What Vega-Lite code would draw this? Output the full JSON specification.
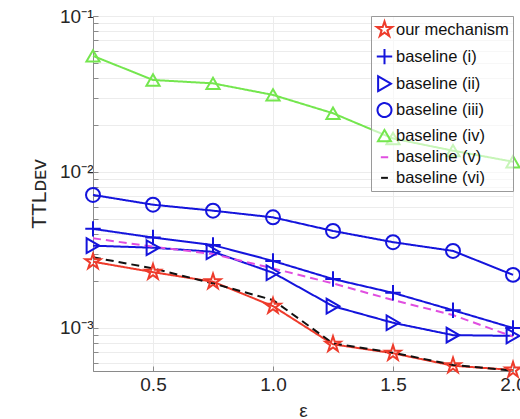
{
  "$schema": "https://vega.github.io/schema/vega-lite/v6.json",
  "width": 420,
  "height": 355,
  "autosize": {"type": "none"},
  "padding": {"left": 93, "top": 16, "right": 7, "bottom": 48},
  "background": "white",
  "config": {
    "font": "Liberation Sans",
    "view": {"stroke": "#9a9a9a", "strokeWidth": 1},
    "axis": {
      "labelFont": "Liberation Sans",
      "titleFont": "Liberation Sans",
      "labelColor": "#262626",
      "titleColor": "#262626",
      "titleFontWeight": "normal",
      "domainColor": "#8a8a8a",
      "tickColor": "#8a8a8a",
      "gridColor": "#ececec",
      "gridWidth": 1,
      "tickSize": -5
    },
    "legend": {"labelFont": "Liberation Sans"}
  },
  "data": {
    "values": [
      {"eps": 0.25, "val": 0.00266, "series": "our mechanism"},
      {"eps": 0.5, "val": 0.00228, "series": "our mechanism"},
      {"eps": 0.75, "val": 0.00198, "series": "our mechanism"},
      {"eps": 1.0, "val": 0.00138, "series": "our mechanism"},
      {"eps": 1.25, "val": 0.000786, "series": "our mechanism"},
      {"eps": 1.5, "val": 0.000689, "series": "our mechanism"},
      {"eps": 1.75, "val": 0.000573, "series": "our mechanism"},
      {"eps": 2.0, "val": 0.000538, "series": "our mechanism"},
      {"eps": 0.25, "val": 0.00432, "series": "baseline (i)"},
      {"eps": 0.5, "val": 0.0038, "series": "baseline (i)"},
      {"eps": 0.75, "val": 0.0034, "series": "baseline (i)"},
      {"eps": 1.0, "val": 0.00269, "series": "baseline (i)"},
      {"eps": 1.25, "val": 0.00206, "series": "baseline (i)"},
      {"eps": 1.5, "val": 0.00168, "series": "baseline (i)"},
      {"eps": 1.75, "val": 0.0013, "series": "baseline (i)"},
      {"eps": 2.0, "val": 0.001, "series": "baseline (i)"},
      {"eps": 0.25, "val": 0.00337, "series": "baseline (ii)"},
      {"eps": 0.5, "val": 0.00327, "series": "baseline (ii)"},
      {"eps": 0.75, "val": 0.00308, "series": "baseline (ii)"},
      {"eps": 1.0, "val": 0.00226, "series": "baseline (ii)"},
      {"eps": 1.25, "val": 0.00138, "series": "baseline (ii)"},
      {"eps": 1.5, "val": 0.00108, "series": "baseline (ii)"},
      {"eps": 1.75, "val": 0.0009, "series": "baseline (ii)"},
      {"eps": 2.0, "val": 0.00089, "series": "baseline (ii)"},
      {"eps": 0.25, "val": 0.00713, "series": "baseline (iii)"},
      {"eps": 0.5, "val": 0.00617, "series": "baseline (iii)"},
      {"eps": 0.75, "val": 0.00565, "series": "baseline (iii)"},
      {"eps": 1.0, "val": 0.00512, "series": "baseline (iii)"},
      {"eps": 1.25, "val": 0.00419, "series": "baseline (iii)"},
      {"eps": 1.5, "val": 0.00355, "series": "baseline (iii)"},
      {"eps": 1.75, "val": 0.00312, "series": "baseline (iii)"},
      {"eps": 2.0, "val": 0.00219, "series": "baseline (iii)"},
      {"eps": 0.25, "val": 0.0555, "series": "baseline (iv)"},
      {"eps": 0.5, "val": 0.0389, "series": "baseline (iv)"},
      {"eps": 0.75, "val": 0.037, "series": "baseline (iv)"},
      {"eps": 1.0, "val": 0.0312, "series": "baseline (iv)"},
      {"eps": 1.25, "val": 0.0238, "series": "baseline (iv)"},
      {"eps": 1.5, "val": 0.0164, "series": "baseline (iv)"},
      {"eps": 1.75, "val": 0.0137, "series": "baseline (iv)"},
      {"eps": 2.0, "val": 0.01164, "series": "baseline (iv)"},
      {"eps": 0.25, "val": 0.00376, "series": "baseline (v)"},
      {"eps": 0.5, "val": 0.00332, "series": "baseline (v)"},
      {"eps": 0.75, "val": 0.00298, "series": "baseline (v)"},
      {"eps": 1.0, "val": 0.00241, "series": "baseline (v)"},
      {"eps": 1.25, "val": 0.00193, "series": "baseline (v)"},
      {"eps": 1.5, "val": 0.00151, "series": "baseline (v)"},
      {"eps": 1.75, "val": 0.00121, "series": "baseline (v)"},
      {"eps": 2.0, "val": 0.00088, "series": "baseline (v)"},
      {"eps": 0.25, "val": 0.00284, "series": "baseline (vi)"},
      {"eps": 0.5, "val": 0.00241, "series": "baseline (vi)"},
      {"eps": 0.75, "val": 0.00193, "series": "baseline (vi)"},
      {"eps": 1.0, "val": 0.00151, "series": "baseline (vi)"},
      {"eps": 1.25, "val": 0.000797, "series": "baseline (vi)"},
      {"eps": 1.5, "val": 0.000695, "series": "baseline (vi)"},
      {"eps": 1.75, "val": 0.00058, "series": "baseline (vi)"},
      {"eps": 2.0, "val": 0.000533, "series": "baseline (vi)"}
    ]
  },
  "encoding": {
    "x": {
      "field": "eps",
      "type": "quantitative",
      "scale": {"domain": [0.25, 2], "nice": false, "zero": false},
      "axis": {
        "title": "ε",
        "titleFontSize": 19,
        "titlePadding": 7,
        "values": [0.5, 1, 1.5, 2],
        "labelFontSize": 19,
        "labelPadding": 9,
        "grid": true,
        "labelFlush": false
      }
    },
    "y": {
      "field": "val",
      "type": "quantitative",
      "scale": {"type": "log", "domain": [0.00053, 0.1], "nice": false},
      "axis": {
        "title": "TTLᴅᴇᴠ",
        "titleFontSize": 21,
        "titlePadding": 10,
        "values": [0.0006, 0.0007, 0.0008, 0.0009, 0.001, 0.002, 0.003, 0.004, 0.005, 0.006, 0.007, 0.008, 0.009, 0.01, 0.02, 0.03, 0.04, 0.05, 0.06, 0.07, 0.08, 0.09, 0.1],
        "labelExpr": "datum.value == 0.1 ? '10⁻¹' : datum.value == 0.01 ? '10⁻²' : datum.value == 0.001 ? '10⁻³' : ''",
        "labelFontSize": 19,
        "labelPadding": 5,
        "grid": true,
        "labelOverlap": false,
        "labelFlush": false
      }
    },
    "color": {
      "field": "series",
      "type": "nominal",
      "scale": {
        "domain": ["our mechanism", "baseline (i)", "baseline (ii)", "baseline (iii)", "baseline (iv)", "baseline (v)", "baseline (vi)"],
        "range": ["#ee3b2b", "#1414dc", "#1414dc", "#1414dc", "#74e64e", "#e04ee0", "#111111"]
      },
      "legend": {
        "title": null,
        "orient": "top-right",
        "offset": 0,
        "labelFontSize": 16.5,
        "labelColor": "#111111",
        "rowPadding": 3.6,
        "padding": 4,
        "labelOffset": 2,
        "symbolSize": 130,
        "symbolStrokeWidth": 2,
        "strokeColor": "#9a9a9a",
        "fillColor": "rgba(255,255,255,0.6)",
        "labelLimit": 300
      }
    }
  },
  "layer": [
    {
      "mark": {"type": "line", "strokeWidth": 2},
      "encoding": {
        "strokeDash": {
          "field": "series",
          "type": "nominal",
          "scale": {
            "domain": ["our mechanism", "baseline (i)", "baseline (ii)", "baseline (iii)", "baseline (iv)", "baseline (v)", "baseline (vi)"],
            "range": [[1, 0], [1, 0], [1, 0], [1, 0], [1, 0], [8, 5], [8, 5]]
          },
          "legend": null
        }
      }
    },
    {
      "transform": [{"filter": "datum.series != 'baseline (v)' && datum.series != 'baseline (vi)'"}],
      "mark": {"type": "point", "filled": false, "strokeWidth": 2, "opacity": 1},
      "encoding": {
        "shape": {
          "field": "series",
          "type": "nominal",
          "scale": {
            "domain": ["our mechanism", "baseline (i)", "baseline (ii)", "baseline (iii)", "baseline (iv)", "baseline (v)", "baseline (vi)"],
            "range": [
              "M0,-1L0.2245,-0.309L0.951,-0.309L0.363,0.118L0.588,0.809L0,0.382L-0.588,0.809L-0.363,0.118L-0.951,-0.309L-0.2245,-0.309Z",
              "M-1,0L1,0M0,-1L0,1",
              "triangle-right",
              "circle",
              "triangle-up",
              "M-0.6,0L0.6,0",
              "M-0.6,0L0.6,0"
            ]
          },
          "legend": {"title": null}
        },
        "size": {
          "field": "series",
          "type": "nominal",
          "scale": {
            "domain": ["our mechanism", "baseline (i)", "baseline (ii)", "baseline (iii)", "baseline (iv)", "baseline (v)", "baseline (vi)"],
            "range": [260, 130, 120, 120, 130, 100, 100]
          },
          "legend": null
        }
      }
    }
  ]
}
